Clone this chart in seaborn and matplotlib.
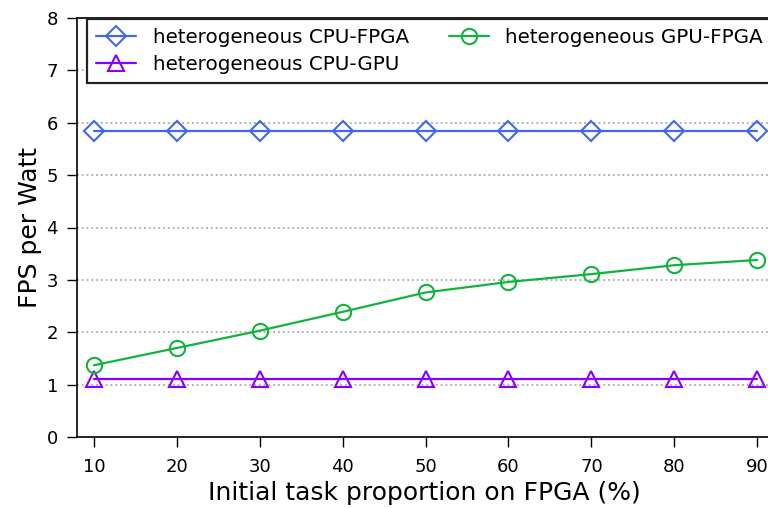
import matplotlib
matplotlib.use("Agg")
import matplotlib.pyplot as plt
import seaborn as sns
import pandas as pd

proportion = [10, 20, 30, 40, 50, 60, 70, 80, 90]
cpu_fpga = [5.84, 5.84, 5.84, 5.84, 5.84, 5.84, 5.84, 5.84, 5.84]
gpu_fpga = [1.37, 1.70, 2.03, 2.39, 2.76, 2.96, 3.11, 3.28, 3.38]
cpu_gpu = [1.11, 1.11, 1.11, 1.11, 1.11, 1.11, 1.11, 1.11, 1.11]
yticks = [0, 1, 2, 3, 4, 5, 6, 7, 8]

labels = ["heterogeneous CPU-FPGA", "heterogeneous CPU-GPU", "heterogeneous GPU-FPGA"]

sns.set_style("ticks")
plt.rcParams["font.family"] = ["DejaVu Sans"]
plt.rcParams["text.color"] = "black"
plt.rcParams["axes.labelcolor"] = "black"
plt.rcParams["xtick.color"] = "black"
plt.rcParams["ytick.color"] = "black"

W = 690.6
fig = plt.figure(figsize=(7.68, 5.08), dpi=100)
ax = fig.add_axes([77.4 / 768, 71 / 508, W / 768, 419 / 508])

df = pd.DataFrame({"x": proportion, "a": cpu_fpga, "b": gpu_fpga, "c": cpu_gpu})

sns.lineplot(data=df, x="x", y="a", ax=ax, color="#4169e6", marker="D", markersize=10.5,
             markerfacecolor="none", markeredgecolor="#4169e6", markeredgewidth=1.5,
             linewidth=1.6, label=labels[0], clip_on=False)
sns.lineplot(data=df, x="x", y="c", ax=ax, color="#8800ff", marker="^", markersize=11,
             markerfacecolor="none", markeredgecolor="#8800ff", markeredgewidth=1.5,
             linewidth=1.6, label=labels[1], clip_on=False)
sns.lineplot(data=df, x="x", y="b", ax=ax, color="#10b43c", marker="o", markersize=11,
             markerfacecolor="none", markeredgecolor="#10b43c", markeredgewidth=1.5,
             linewidth=1.6, label=labels[2], clip_on=False)

ax.set_xlim(8, 8 + W / 82.9 * 10)
ax.set_ylim(0, 8)
ax.set_xticks(proportion)
ax.set_yticks(yticks)
ax.set_xticklabels([str(v) for v in proportion])
ax.set_yticklabels([str(v) for v in yticks])
ax.tick_params(axis="both", labelsize=13, length=7, width=1, direction="out", colors="black")
ax.tick_params(axis="x", pad=8)
ax.tick_params(axis="y", pad=7)
ax.set_xlabel("Initial task proportion on FPGA (%)", fontsize=18, color="black")
ax.set_ylabel("FPS per Watt", fontsize=18, color="black", labelpad=3)
ax.xaxis.set_label_coords((424 - 77.4) / W, -0.105)
ax.yaxis.grid(True, linestyle=":", color="#aaaaaa", linewidth=1.3)
ax.xaxis.grid(False)
ax.set_axisbelow(True)
for name, s in ax.spines.items():
    s.set_visible(name != "right")
    s.set_color("black")
    s.set_linewidth(1.2)

handles, labs = ax.get_legend_handles_labels()
order = [labs.index(l) for l in labels]
leg = ax.legend([handles[i] for i in order], [labs[i] for i in order], ncol=2,
                loc="upper left", bbox_to_anchor=(10 / W, 1 - 1 / 419), borderaxespad=0,
                fontsize=14.3, handlelength=2.0, handletextpad=0.85, columnspacing=2.0,
                labelspacing=0.42, borderpad=0.45, fancybox=False, framealpha=1,
                edgecolor="#222222")
leg.get_frame().set_linewidth(1.6)
for t in leg.get_texts():
    t.set_color("black")

fig.savefig("out.png", dpi=100)
